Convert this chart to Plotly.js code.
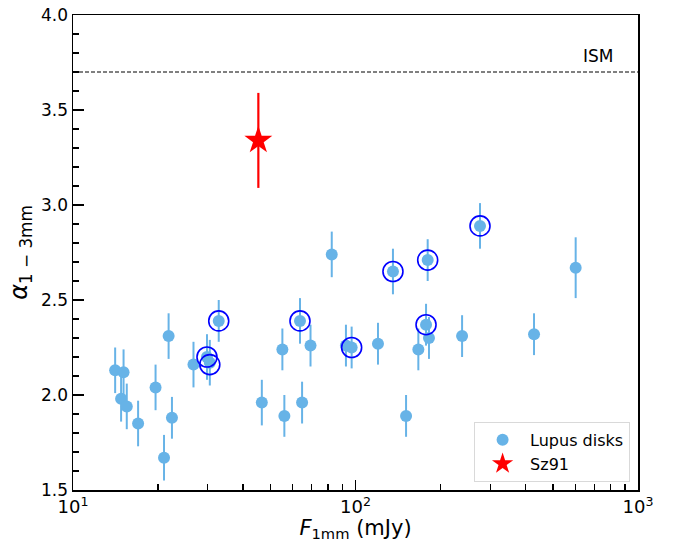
<!DOCTYPE html>
<html>
<head>
<meta charset="utf-8">
<script src="https://cdn.plot.ly/plotly-3.0.1.min.js"></script>
<style>
html,body{margin:0;padding:0;background:#fff;}
#chart{width:674px;height:542px;}
</style>
</head>
<body>
<div id="chart"></div>
<script>
// Lupus disks: 1mm flux (mJy), spectral index, error
const lupusFlux = [14.1, 15.1, 14.8, 15.5, 17.0, 19.6, 21.0, 21.8, 22.4, 26.7, 29.8, 30.5, 32.8,
  46.6, 55.1, 56.0, 63.6, 64.7, 69.3, 82.4, 92.5, 96.9, 120.1, 135.7, 151, 166.9, 177.7, 182,
  180.1, 238.4, 275.9, 428.5, 601.7];
const lupusAlpha = [2.13, 2.12, 1.98, 1.94, 1.85, 2.04, 1.67, 2.31, 1.88, 2.16, 2.20, 2.17, 2.39,
  1.96, 2.24, 1.89, 2.39, 1.96, 2.26, 2.74, 2.26, 2.25, 2.27, 2.65, 1.89, 2.24, 2.37, 2.30,
  2.71, 2.31, 2.89, 2.32, 2.67];
const lupusErr = [0.12, 0.12, 0.12, 0.12, 0.12, 0.12, 0.12, 0.12, 0.11, 0.12, 0.12, 0.12, 0.11,
  0.12, 0.11, 0.11, 0.12, 0.11, 0.11, 0.12, 0.11, 0.11, 0.11, 0.12, 0.11, 0.11, 0.11, 0.11,
  0.11, 0.11, 0.12, 0.11, 0.16];
// Highlighted (circled) disks
const circFlux = [29.8, 30.5, 32.8, 63.6, 96.9, 135.7, 177.7, 180.1, 275.9];
const circAlpha = [2.20, 2.16, 2.39, 2.39, 2.25, 2.65, 2.37, 2.71, 2.89];
// Sz91
const szFlux = [45.3];
const szAlpha = [3.34];
const szErr = [0.25];
// ISM reference
const ismAlpha = 3.7;
const xRange = [10, 1000];
const yTicks = [1.5, 2.0, 2.5, 3.0, 3.5, 4.0];
const xTicks = [10, 100, 1000];
const xTickText = ['10<sup>1</sup>', '10<sup>2</sup>', '10<sup>3</sup>'];
const xMinor = [20,30,40,50,60,70,80,90,200,300,400,500,600,700,800,900];

const ptColor = '#67b3e7';
const traces = [
  {
    x: lupusFlux, y: lupusAlpha, type: 'scatter', mode: 'markers', name: 'Lupus disks',
    marker: {color: ptColor, size: 12},
    error_y: {type: 'data', array: lupusErr, visible: true, color: ptColor, thickness: 2, width: 0}
  },
  {
    x: circFlux, y: circAlpha, type: 'scatter', mode: 'markers', showlegend: false,
    marker: {symbol: 'circle-open', size: 20, color: '#0000ff', line: {color: '#0000ff', width: 1.6}}
  },
  {
    x: szFlux, y: szAlpha, type: 'scatter', mode: 'markers', name: 'Sz91',
    marker: {symbol: 'star', color: '#ff0000', size: 21, line: {width: 0}},
    error_y: {type: 'data', array: szErr, visible: true, color: '#ff0000', thickness: 2.2, width: 0}
  },
  {
    x: xRange, y: [ismAlpha, ismAlpha], type: 'scatter', mode: 'lines', showlegend: false,
    line: {color: '#000', width: 1, dash: '4px,2px'}, hoverinfo: 'skip'
  }
];

const font = {family: 'DejaVu Sans, sans-serif', color: '#000'};
const layout = {
  width: 674, height: 542,
  margin: {l: 73, r: 36, t: 15, b: 52},
  paper_bgcolor: '#fff', plot_bgcolor: '#fff',
  font: font,
  showlegend: true,
  legend: {
    x: 0.986, y: 0.017, xanchor: 'right', yanchor: 'bottom',
    bgcolor: 'rgba(255,255,255,0.8)', bordercolor: '#d9d9d9', borderwidth: 1,
    font: {family: 'DejaVu Sans, sans-serif', size: 16, color: '#000'},
    itemsizing: 'trace', itemwidth: 45, tracegroupgap: 2
  },
  xaxis: {
    type: 'log', range: [1, 3],
    tickvals: xTicks, ticktext: xTickText,
    ticks: 'inside', ticklen: 10, tickwidth: 1.5, tickcolor: '#000',
    minor: {tickvals: xMinor, ticks: 'inside', ticklen: 6, tickwidth: 1.3, tickcolor: '#000', showgrid: false},
    showgrid: false, zeroline: false,
    showline: true, mirror: true, linecolor: '#000', linewidth: 1.5,
    tickfont: {family: 'DejaVu Sans, sans-serif', size: 18, color: '#000'},
    title: {text: '<i>F</i><sub>1mm</sub> (mJy)', font: {family: 'DejaVu Sans, sans-serif', size: 21, color: '#000'}, standoff: 8}
  },
  yaxis: {
    range: [1.5, 4.0],
    tickvals: yTicks, tickformat: '.1f',
    ticks: 'inside', ticklen: 11, tickwidth: 1.5, tickcolor: '#000',
    minor: {dtick: 0.1, ticks: 'inside', ticklen: 6, tickwidth: 1.3, tickcolor: '#000', showgrid: false},
    showgrid: false, zeroline: false,
    showline: true, mirror: true, linecolor: '#000', linewidth: 1.5,
    tickfont: {family: 'DejaVu Sans, sans-serif', size: 17, color: '#000'},
    title: {text: '<i>α</i><sub>1 − 3mm</sub>', font: {family: 'DejaVu Sans, sans-serif', size: 24, color: '#000'}, standoff: 6}
  },
  annotations: [
    {xref: 'paper', x: 0.929, xanchor: 'center', yref: 'y', y: ismAlpha, yanchor: 'bottom', yshift: 4,
     text: 'ISM', showarrow: false, font: {family: 'DejaVu Sans, sans-serif', size: 17, color: '#000'}}
  ]
};

Plotly.newPlot('chart', traces, layout, {displayModeBar: false, staticPlot: true});
</script>
</body>
</html>
